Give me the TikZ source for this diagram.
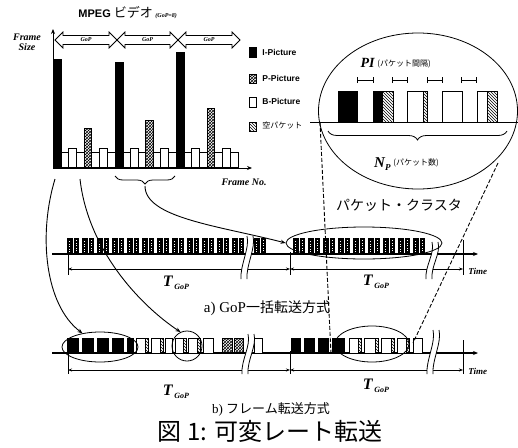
\documentclass[tikz,border=0pt]{standalone}
\usepackage{fontspec}
\setmainfont{Liberation Serif}
\newfontfamily\jp{Noto Sans CJK JP}
\newfontfamily\hv{Liberation Sans}
\usetikzlibrary{patterns,shapes.geometric,decorations.pathreplacing,arrows.meta}
\newcommand\fs[1]{\fontsize{#1}{#1}\selectfont}
\newcommand\bis{\bfseries\itshape}
\newcommand\tgop{{\bis\fs{16}T}\,\raisebox{-2.5pt}{\bis\fs{8}GoP}}
\tikzset{
  conn/.style={line width=0.9pt,-{Stealth[length=5pt,width=4pt]}},
  dimline/.style={line width=0.8pt,{Stealth[length=4pt,width=3pt]}-{Stealth[length=4pt,width=3pt]}},
  ring/.style={draw,ellipse,inner sep=0pt,line width=0.8pt},
  lbl/.style={inner sep=0pt},
  dashconn/.style={dashed,line width=0.9pt,dash pattern=on 4pt off 2pt},
  pbar/.style={draw,pattern=crosshatch},
}
% break mark
\newcommand\brk[3]{%
  \fill[white] (#1+3,#2) .. controls (#1+6,#2+12) and (#1-4,#3-14) .. (#1-3,#3)
     -- (#1+3,#3) .. controls (#1+2,#3-14) and (#1+12,#2+12) .. (#1+9,#2) -- cycle;
  \draw[line width=0.8pt] (#1+3,#2) .. controls (#1+6,#2+12) and (#1-4,#3-14) .. (#1-3,#3);
  \draw[line width=0.8pt] (#1+9,#2) .. controls (#1+12,#2+12) and (#1+2,#3-14) .. (#1+3,#3);}
\begin{document}
\begin{tikzpicture}[x=1pt,y=-1pt,line width=0.9pt]
\useasboundingbox (0,0) rectangle (518,447);

% ---------- title
\node[lbl,anchor=base west] (title) at (78,17) {\hv\bfseries\fs{11}MPEG {\jp\mdseries\fs{13}ビデオ}};
\node[lbl,anchor=base west] (gopn) at (title.base east) {\,\bis\fs{6}(GoP=8)};

% ---------- axes
\coordinate (O) at (53,168);
\coordinate (Ytop) at (53,29);
\coordinate (Xend) at (252,168);
\draw[line width=1pt,-{Stealth[length=5pt,width=4pt]}] (O) -- (Ytop);
\draw[line width=1pt,-{Stealth[length=5pt,width=4pt]}] (O) -- (Xend);
\node[lbl,align=center,font=\bis\fs{10}] (fsz) at (27,42) {Frame\\[0pt]Size};
\node[lbl,font=\bis\fs{10}] (fno) at (244,182) {Frame No.};

% ---------- GoP double arrows
\foreach \a/\b/\n in {55/117/g1,117/178/g2,178/240/g3}{
  \draw[fill=white,line width=0.8pt] (\a,40) -- (\a+8,32) -- (\a+8,35.5) -- (\b-8,35.5) -- (\b-8,32)
     -- (\b,40) -- (\b-8,48) -- (\b-8,44.5) -- (\a+8,44.5) -- (\a+8,48) -- cycle;
  \node[lbl,font=\bis\fs{6}] (\n) at ({(\a+\b)/2},40) {GoP};
}

% ---------- frame bars
\foreach \xo/\xn/\it/\pt in {53/115/59/128,115/176/62/120,176/238/52/108}{
  \draw[fill=black] (\xo,167) rectangle (\xo+8,\it);
  \pgfmathsetmacro\w{(\xn-\xo-8)/7}
  \foreach \k/\t in {1/152,2/148,3/152,5/152,6/148,7/152}{
    \draw[fill=white] ({\xo+8+(\k-1)*\w},167) rectangle ({\xo+8+\k*\w},\t);
  }
  \draw[pbar] ({\xo+8+3*\w},167) rectangle ({\xo+8+4*\w},\pt);
}

% ---------- legend
\draw[fill=black] (249,47) rectangle (256,57);
\draw[pbar] (249,74) rectangle (256,83);
\draw[fill=white] (249,97) rectangle (256,107);
\draw[pattern=north west lines] (249,122) rectangle (256,131);
\node[lbl,anchor=west,font=\hv\bfseries\fs{8.5}] (lgI) at (262,52) {I-Picture};
\node[lbl,anchor=west,font=\hv\bfseries\fs{8.5}] (lgP) at (262,78) {P-Picture};
\node[lbl,anchor=west,font=\hv\bfseries\fs{8.5}] (lgB) at (262,101) {B-Picture};
\node[lbl,anchor=west,font=\jp\fs{8}] (lgE) at (262,125) {空パケット};

% ---------- brace under GoP 2
\draw[decorate,decoration={brace,mirror,amplitude=8pt},line width=0.8pt] (115,176) -- (175,176);
\coordinate (btip) at (145,186);
\coordinate (c1) at (55,179);
\coordinate (c2) at (80,179);

% ---------- magnified ellipse
\node[ring,minimum width=199pt,minimum height=156pt] (mag) at (418,111) {};
\draw[line width=1pt] (310,122) -- (518,122);
\draw[fill=black] (338,122) rectangle (357,91);
\draw[fill=black] (373,122) rectangle (382,91);
\draw[pattern=north west lines] (382,122) rectangle (393,91);
\draw[fill=white] (407,122) rectangle (423,91);
\draw[pattern=north west lines] (423,122) rectangle (427,91);
\draw[fill=white] (442,122) rectangle (462,91);
\draw[fill=white] (477,122) rectangle (487,91);
\draw[pattern=north west lines] (487,122) rectangle (497,91);
\foreach \a/\b in {357/374,392/408,427/443,461/477}
  \draw[{Bar[width=6pt]}-{Bar[width=6pt]},line width=0.8pt] (\a,80) -- (\b,80);
\node[lbl,anchor=base east,font=\bis\fs{14}] (pi) at (375,67) {PI};
\node[lbl,anchor=base west,font=\jp\fs{8}] (pit) at (377,66) {(パケット間隔)};
\draw[decorate,decoration={brace,mirror,amplitude=9pt},line width=0.8pt] (328,131) -- (507,131);
\node[lbl,anchor=base east,font=\bis\fs{15}] (np) at (391,167) {N\raisebox{-3pt}{\fs{9}P}};
\node[lbl,anchor=base west,font=\jp\fs{8}] (npt) at (393,165) {(パケット数)};
\node[lbl,font=\jp\fs{14}] (pc) at (399,205) {パケット・クラスタ};
\coordinate (dl1) at (320,122);
\coordinate (dl2) at (498,163);

% ================= timeline a
\draw[line width=1.2pt,-{Stealth[length=5pt,width=4pt]}] (52,254) -- (478,254);
\draw (68,252) -- (68,275);
\draw (290,252) -- (290,275);
\draw (463,240) -- (463,275);
\draw[dimline] (68,269) -- (290,269);
\draw[dimline] (290,269) -- (463,269);
\foreach \x in {67,82,...,232,254,293,308,...,413}{
  \fill (\x,254) rectangle (\x+5.5,238);
  \fill (\x+6.5,254) rectangle (\x+12,238);
  \draw[white,line width=0.5pt,dash pattern=on 1pt off 1.5pt] (\x+2.7,252) -- (\x+2.7,240);
  \draw[white,line width=0.5pt,dash pattern=on 1pt off 1.5pt] (\x+9.2,251) -- (\x+9.2,240);
}
\brk{244}{236}{279}
\brk{429}{242}{279}
\node[ring,minimum width=156pt,minimum height=32pt] (ea) at (364,243) {};
\node[lbl] (ta1) at (176,283) {\tgop};
\node[lbl] (ta2) at (376,282) {\tgop};
\node[lbl,anchor=west,font=\bis\fs{9}] (tma) at (468,271) {Time};
\node[lbl] (capa) at (267,308) {\fs{15}a) GoP{\jp\fs{14}一括転送方式}};

% ================= timeline b
\draw[line width=1.2pt,-{Stealth[length=5pt,width=4pt]}] (52,353) -- (478,353);
\draw (68,351) -- (68,374);
\draw (290,351) -- (290,374);
\draw (463,340) -- (463,374);
\draw[dimline] (68,370) -- (290,370);
\draw[dimline] (290,370) -- (463,370);
\foreach \a/\b in {67/78,82/93,97/108,112/123,127/133,291/300,304/314,318/328,332/344}
  \draw[fill=black] (\a,353) rectangle (\b,338);
\foreach \a/\b in {136/145,151/160,165/172,175/183,188/197,203/213,254/262,349/358,364/375,381/391,397/406,413/422}
  \draw[fill=white] (\a,353) rectangle (\b,338);
\foreach \a/\b in {145/148,160/163,183/186,197/200,358/361,375/378,391/394,406/409}
  \draw[pattern=north west lines] (\a,353) rectangle (\b,338);
\foreach \a/\b in {222/232,234/243}
  \draw[pbar] (\a,353) rectangle (\b,338);
\brk{245}{334}{374}
\brk{430}{330}{374}
\node[ring,minimum width=76pt,minimum height=30pt] (eb1) at (100,347) {};
\node[ring,circle,minimum size=30pt] (cb) at (187,346) {};
\node[ring,minimum width=74pt,minimum height=36pt] (eb2) at (372,344) {};
\node[lbl] (tb1) at (176,392) {\tgop};
\node[lbl] (tb2) at (376,386) {\tgop};
\node[lbl,anchor=west,font=\bis\fs{9}] (tmb) at (468,371) {Time};
\node[lbl] (capb) at (271,409) {\fs{13}b) {\jp\fs{13}フレーム転送方式}};
\coordinate (dl1e) at (331,354);
\coordinate (dl2e) at (413,343);

% ---------- caption
\node[lbl] (cap) at (270,431) {\jp\fs{24}図 1: 可変レート転送};

% ---------- connectors
\draw[conn] (c1) .. controls (38,235) and (45,305) .. (eb1.142);
\draw[conn] (c2) .. controls (88,250) and (140,305) .. (cb.115);
\draw[conn] (btip) .. controls (145,218) and (220,226) .. (ea.west);
\draw[dashconn] (dl1) -- (dl1e);
\draw[dashconn] (dl2) -- (dl2e);
\end{tikzpicture}
\end{document}
